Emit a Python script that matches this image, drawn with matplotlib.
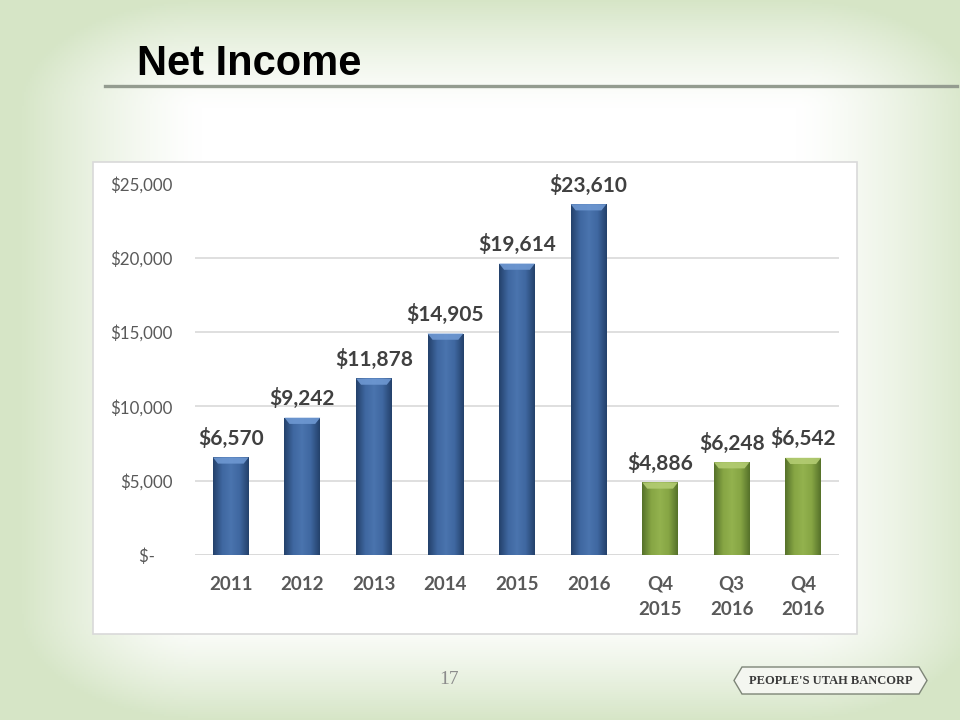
import numpy as np
import matplotlib
matplotlib.use('Agg')
import matplotlib.pyplot as plt
from matplotlib.patches import Rectangle, Polygon
from matplotlib.colors import LinearSegmentedColormap

categories = ['2011', '2012', '2013', '2014', '2015', '2016',
              'Q4\n2015', 'Q3\n2016', 'Q4\n2016']
net_income = [6570, 9242, 11878, 14905, 19614, 23610, 4886, 6248, 6542]
is_quarter = [False] * 6 + [True] * 3
y_ticks = [0, 5000, 10000, 15000, 20000, 25000]
y_tick_labels = ['$-    ', '$5,000', '$10,000', '$15,000', '$20,000', '$25,000']

W, H = 960, 720
fig = plt.figure(figsize=(9.6, 7.2), dpi=100)

# slide background: white centre fading to pale green at the edges
bg = fig.add_axes([0, 0, 1, 1], zorder=-10)
gx, gy = np.meshgrid(np.linspace(0, 1, 480), np.linspace(0, 1, 360))
dx = np.clip((np.abs(gx - 0.52) * 2 - 0.62) / 0.38, 0, 1)
dy = np.clip((np.abs(gy - 0.5) * 2 - 0.70) / 0.30, 0, 1)
t = np.clip(np.sqrt(dx ** 2 + dy ** 2), 0, 1) ** 1.3
edge = np.array([0.84, 0.90, 0.78])
img = (1 - t)[..., None] * np.ones(3) + t[..., None] * edge
bg.imshow(img, extent=[0, 1, 0, 1], aspect='auto')
bg.set_xlim(0, 1)
bg.set_ylim(0, 1)
bg.axis('off')

# title and rule
fig.text(137 / W, 1 - 64 / H, 'Net Income', fontsize=30, weight='bold',
         family='Liberation Sans', va='center', ha='left')
fig.add_artist(plt.Line2D([105 / W, 957 / W], [1 - 86 / H, 1 - 86 / H],
                          color='#949c90', lw=2.4))

# chart frame
fig.add_artist(Rectangle((93 / W, 1 - 634 / H), (857 - 93) / W, (634 - 162) / H,
                         transform=fig.transFigure, facecolor='white',
                         edgecolor='#d9d9d9', lw=1.2, zorder=0))

ax = fig.add_axes([195 / W, 1 - 555 / H, 644 / W, 371.5 / H])
ax.set_facecolor('none')
x = np.arange(len(categories))
bw = 0.5

blue = LinearSegmentedColormap.from_list('b', ['#24416b', '#3f67a0', '#4a74ae', '#3f67a0', '#24416b'])
green = LinearSegmentedColormap.from_list('g', ['#56722a', '#86a544', '#93b24e', '#86a544', '#56722a'])
grad = np.linspace(0, 1, 64).reshape(1, -1)

bars = ax.bar(x, net_income, width=bw, color=['#7a9a3a' if q else '#3d6399' for q in is_quarter],
              zorder=2)
for xi, v, q, b in zip(x, net_income, is_quarter, bars):
    im = ax.imshow(grad, extent=[xi - bw / 2, xi + bw / 2, 0, v], aspect='auto',
                   cmap=green if q else blue, zorder=3)
    im.set_clip_path(b)
    cap = 420
    inset = bw * 0.14
    ax.add_patch(Polygon([(xi - bw / 2, v), (xi + bw / 2, v),
                          (xi + bw / 2 - inset, v - cap), (xi - bw / 2 + inset, v - cap)],
                         closed=True, facecolor='#b3cc72' if q else '#6e98d2',
                         edgecolor='none', alpha=0.9, zorder=4))
    ax.text(xi, v + 560, '${:,}'.format(v), ha='center', va='bottom', fontsize=15,
            weight='bold', color='#404040', family='Lato', clip_on=False)

ax.set_xlim(-0.5, len(categories) - 0.5)
ax.set_ylim(0, 25000)
ax.set_yticks(y_ticks)
ax.set_yticklabels(y_tick_labels, fontsize=12.2, color='#595959', family='Lato')
ax.set_xticks(x)
ax.set_xticklabels(categories, fontsize=13.5, weight='bold', color='#595959',
                   family='Lato', linespacing=1.6)
ax.tick_params(axis='y', length=0, pad=16)
ax.tick_params(axis='x', length=0, pad=15)
ax.grid(axis='y', color='#d9d9d9', lw=1.2, zorder=0)
for s in ax.spines.values():
    s.set_visible(False)
ax.axhline(0, color='#d9d9d9', lw=1.2, zorder=1)

# footer: page number and logo
fig.text(449 / W, 1 - 680 / H, '17', fontsize=14, color='#8c8c8c',
         family='Liberation Serif', ha='center', va='center')
lx0, lx1, ly0, ly1 = 734 / W, 927 / W, 1 - 694 / H, 1 - 667 / H
ym = (ly0 + ly1) / 2
fig.add_artist(Polygon([(lx0, ym), (lx0 + 8 / W, ly1), (lx1 - 8 / W, ly1), (lx1, ym),
                        (lx1 - 8 / W, ly0), (lx0 + 8 / W, ly0)], closed=True,
                       transform=fig.transFigure, facecolor='#f4f6f0',
                       edgecolor='#7d8577', lw=1.0))
fig.text((lx0 + lx1) / 2, ym, "PEOPLE'S UTAH BANCORP", fontsize=9, weight='bold',
         color='#3a3a3a', family='Liberation Serif', ha='center', va='center')

fig.savefig('out.png', dpi=100)
